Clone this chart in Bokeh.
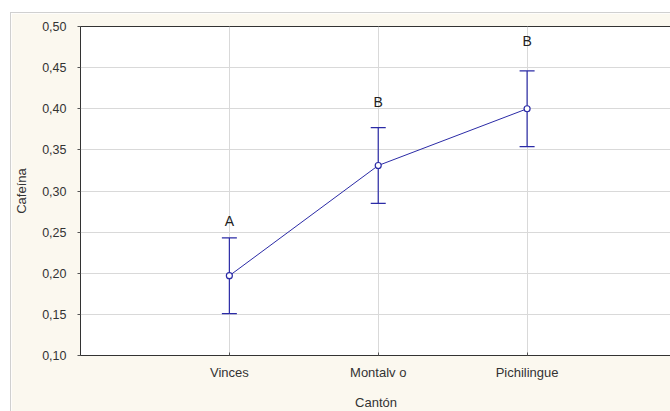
from bokeh.plotting import figure
from bokeh.models import (ColumnDataSource, Whisker, TeeHead, FixedTicker,
                          CustomJSTickFormatter, Range1d)
from bokeh.embed import file_html
from bokeh.resources import INLINE

# ---- data ----
categories = ["Vinces", "Montalv o", "Pichilingue"]
means = [0.197, 0.331, 0.400]
lower = [0.151, 0.285, 0.354]
upper = [0.243, 0.377, 0.446]
letters = ["A", "B", "B"]
letter_y = [0.264, 0.408, 0.482]
y_ticks = [0.10, 0.15, 0.20, 0.25, 0.30, 0.35, 0.40, 0.45, 0.50]

xpos = list(range(1, len(categories) + 1))

src = ColumnDataSource(dict(x=xpos, m=means, lo=lower, hi=upper,
                            lab=letters, ly=letter_y))

FONT = "Liberation Sans"
BLUE = "#2B2BA6"
CREAM = "#FBF8EF"

p = figure(width=660, height=399, output_backend="svg", toolbar_location=None,
           x_range=Range1d(0, 3.97), y_range=Range1d(0.10, 0.50),
           min_border_left=67, min_border_top=13, min_border_bottom=55,
           min_border_right=0, margin=(12, 0, 0, 10))
p.styles = {"border-top": "1px solid #D0D0D0", "border-left": "1px solid #D0D0D0"}
p.border_fill_color = CREAM
p.background_fill_color = "white"
p.outline_line_color = "#333333"

# axes
p.xaxis.ticker = FixedTicker(ticks=xpos)
p.xaxis.major_label_overrides = {i: c for i, c in zip(xpos, categories)}
p.yaxis.ticker = FixedTicker(ticks=y_ticks)
p.yaxis.formatter = CustomJSTickFormatter(code="return tick.toFixed(2).replace('.', ',');")
for ax in (p.xaxis[0], p.yaxis[0]):
    ax.axis_line_color = "#333333"
    ax.major_tick_line_color = "#555555"
    ax.minor_tick_line_color = None
    ax.major_label_text_font = FONT
    ax.major_label_text_font_size = "13px"
    ax.major_label_text_color = "#333333"
    ax.axis_label_text_font = FONT
    ax.axis_label_text_font_size = "13px"
    ax.axis_label_text_font_style = "normal"
    ax.axis_label_text_color = "#333333"
p.yaxis.major_label_text_font_size = "12.5px"
p.yaxis.major_tick_out = 3
p.yaxis.major_tick_in = 0
p.xaxis.major_tick_out = 0
p.xaxis.major_tick_in = 3
p.yaxis.major_label_standoff = 11
p.xaxis.major_label_standoff = 9
p.yaxis.axis_label = "Cafeína"
p.xaxis.axis_label = "Cantón"
p.yaxis.axis_label_standoff = 10
p.xaxis.axis_label_standoff = 12

p.grid.grid_line_color = "#D9D9D9"
p.grid.grid_line_width = 1

# error bars
w = Whisker(source=src, base="x", lower="lo", upper="hi",
            line_color=BLUE, line_width=1.2,
            upper_head=TeeHead(size=15, line_color=BLUE, line_width=1.2),
            lower_head=TeeHead(size=15, line_color=BLUE, line_width=1.2))
p.add_layout(w)

p.line("x", "m", source=src, line_color=BLUE, line_width=1)
p.scatter("x", "m", source=src, size=6, marker="circle",
          line_color=BLUE, fill_color="white", line_width=1.2)

p.text("x", "ly", text="lab", source=src, text_align="center",
       text_baseline="middle", text_font_size="14px", text_color="#222222",
       text_font={"value": FONT})

open("out.html", "w").write(file_html(p, INLINE))
